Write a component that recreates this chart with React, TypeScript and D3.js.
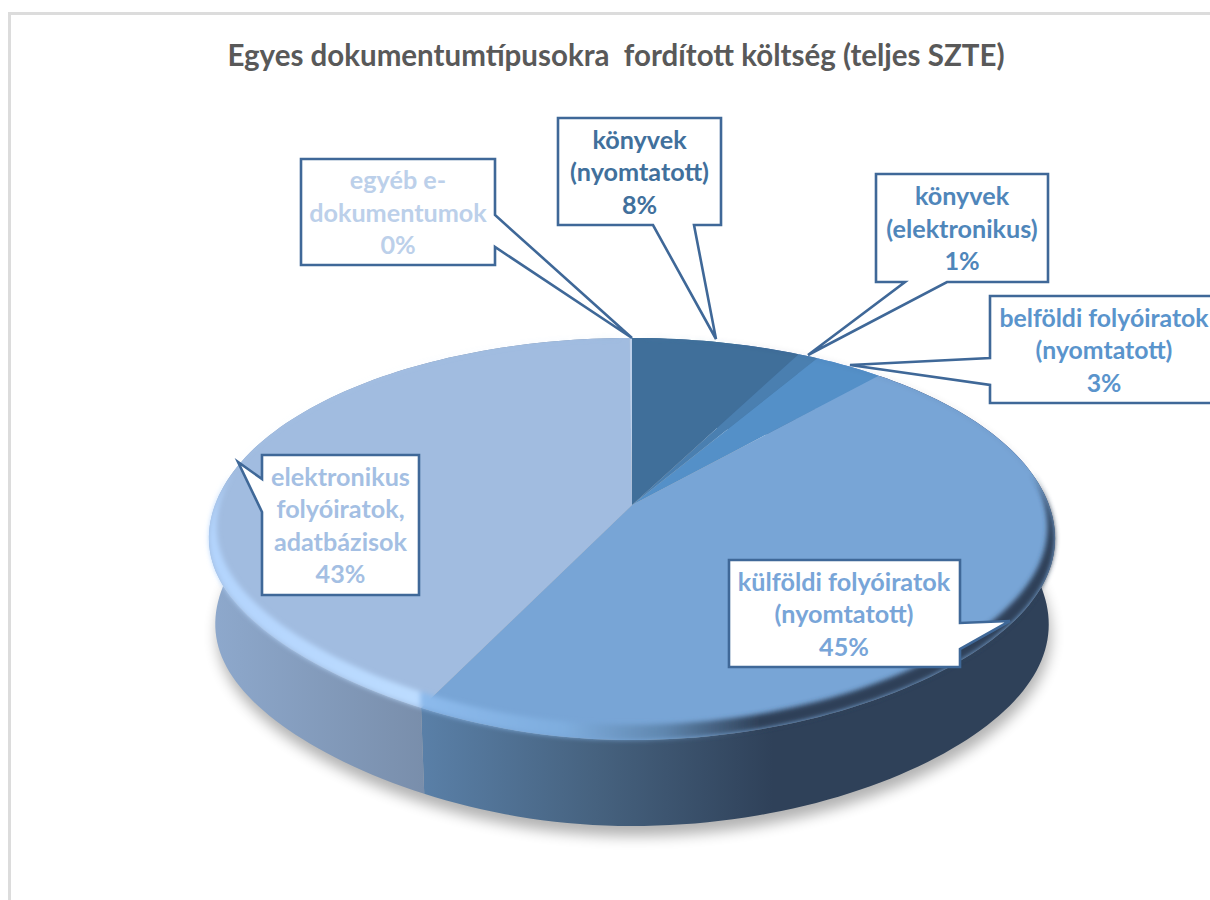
import React from "react";
import * as d3 from "d3";

const titleText = "Egyes dokumentumtípusokra  fordított költség (teljes SZTE)";
const categories = [
  ["könyvek", "(nyomtatott)"],
  ["könyvek", "(elektronikus)"],
  ["belföldi folyóiratok", "(nyomtatott)"],
  ["külföldi folyóiratok", "(nyomtatott)"],
  ["elektronikus", "folyóiratok,", "adatbázisok"],
  ["egyéb e-", "dokumentumok"],
];
const values = [7.6, 0.9, 3.1, 45.45, 42.85, 0.1];
const topColors = ["#406f9a", "#4a7fb0", "#5490c8", "#78a5d6", "#a1bce0", "#bdd0ea"];
const labelColors = ["#41709c", "#4f86ba", "#5a94cc", "#78a5d8", "#a4bfe3", "#bcd0ea"];

// label callouts: box [x0, y0, x1, y1], tail side, tail base start/end, tail apex
const boxes = [
  { b: [558, 118, 721, 225], side: "bottom", t: [653, 694], apex: [716, 339] },
  { b: [876, 174, 1048, 282], side: "bottom", t: [905, 947], apex: [808, 355] },
  { b: [990, 296, 1216, 403], side: "left", t: [358, 385], apex: [850, 365] },
  { b: [729, 560, 960, 667], side: "right", t: [623, 649], apex: [1010, 621] },
  { b: [262, 455, 419, 595], side: "left", t: [479, 512], apex: [238, 462] },
  { b: [301, 159, 495, 265], side: "right", t: [215, 247], apex: [632, 338] },
];

const CX = 632;
const CY = 505;
const R = 417;
const B = 195.3;
const P = 0.169;
const DEPTH = 86;
const BOTTOM_SCALE = 0.985;

// the reference's rim is a little flatter than a true ellipse in its two lower quadrants
function rimFlatten(theta: number) {
  const t = ((theta % (2 * Math.PI)) + 2 * Math.PI) % (2 * Math.PI);
  if (t > Math.PI / 2 && t <= Math.PI) return 5 * Math.sin(2 * t) ** 2;
  if (t > Math.PI && t < (3 * Math.PI) / 2) return 9 * Math.sin(2 * t) ** 2;
  return 0;
}
function project(theta: number, k = 1): [number, number] {
  const u = Math.sin(theta);
  const v = -Math.cos(theta);
  const w = 1 - P * v;
  return [CX + (R * k * u) / w, CY + (B * k * v) / w - rimFlatten(theta)];
}
function lower(theta: number): [number, number] {
  const [x, y] = project(theta);
  return [CX + (x - CX) * BOTTOM_SCALE, y + DEPTH];
}
const line = d3.line();
const arcSteps = (a: number, b: number) => {
  const n = Math.max(2, Math.ceil(((b - a) / (2 * Math.PI)) * 240));
  return d3.range(n + 1).map((i) => a + ((b - a) * i) / n);
};

function calloutPath(c: (typeof boxes)[number]) {
  const [x0, y0, x1, y1] = c.b;
  const pts: [number, number][] = [];
  const a = c.apex as [number, number];
  pts.push([x0, y0], [x1, y0]);
  if (c.side === "right") pts.push([x1, c.t[0]], a, [x1, c.t[1]]);
  pts.push([x1, y1]);
  if (c.side === "bottom") pts.push([c.t[1], y1], a, [c.t[0], y1]);
  pts.push([x0, y1]);
  if (c.side === "left") pts.push([x0, c.t[1]], a, [x0, c.t[0]]);
  return line(pts) + "Z";
}

export default function App() {
  const arcs = d3
    .pie<number>()
    .sort(null)
    .value((d) => d)(values);
  const full = arcSteps(0, 2 * Math.PI);
  const rimPath = line(full.map((t) => project(t))) + "Z";
  const bottomPath = line(full.map((t) => lower(t))) + "Z";
  const innerRim =
    line(
      full.map((t) => {
        const [x, y] = project(t, 0.982);
        return [x, y - 11] as [number, number];
      })
    ) + "Z";
  const pctFmt = d3.format(".0f");
  const font = "Lato, Carlito, 'Open Sans', sans-serif";

  return (
    <svg
      width={1210}
      height={900}
      viewBox="0 0 1210 900"
      style={{ position: "absolute", left: 0, top: 0, display: "block", background: "#fff" }}
    >
      <defs>
        <filter id="shadow" x="-10%" y="-10%" width="120%" height="130%">
          <feGaussianBlur stdDeviation="7" />
        </filter>
        <filter id="soft" x="-5%" y="-5%" width="110%" height="110%">
          <feGaussianBlur stdDeviation="2.8" />
        </filter>
        <linearGradient id="side3" gradientUnits="userSpaceOnUse" x1="420" x2="1050" y1="0" y2="0">
          <stop offset="0" stopColor="#5a80a8" />
          <stop offset="0.28" stopColor="#46627f" />
          <stop offset="0.56" stopColor="#2f4159" />
          <stop offset="1" stopColor="#2f4159" />
        </linearGradient>
        <linearGradient id="side4" gradientUnits="userSpaceOnUse" x1="208" x2="424" y1="0" y2="0">
          <stop offset="0" stopColor="#8ea9cd" />
          <stop offset="1" stopColor="#798eab" />
        </linearGradient>
        <linearGradient id="bevel" gradientUnits="userSpaceOnUse" x1="207" x2="1056" y1="0" y2="0">
          <stop offset="0" stopColor="#b3d4fd" />
          <stop offset="0.25" stopColor="#bcdcff" />
          <stop offset="0.252" stopColor="#8cbaec" />
          <stop offset="0.42" stopColor="#7eadde" />
          <stop offset="0.54" stopColor="#5f86ae" />
          <stop offset="0.65" stopColor="#2f4159" />
          <stop offset="1" stopColor="#2f4159" />
        </linearGradient>
        <clipPath id="rimClip">
          <path d={rimPath} />
        </clipPath>
      </defs>

      <rect x={0} y={0} width={1210} height={900} fill="#fff" />
      <path d="M1216,13.5H9.5V906" fill="none" stroke="#dcdcdc" strokeWidth={3} />

      <text
        x={616}
        y={65.5}
        textAnchor="middle"
        fontFamily={font}
        fontWeight={700}
        fontSize={29.5}
        fill="#595959"
        style={{ whiteSpace: "pre" }}
      >
        {titleText}
      </text>

      <path d={bottomPath} transform="translate(2,10)" fill="#000" opacity={0.3} filter="url(#shadow)" />

      {arcs.map((a, i) => {
        const ts = arcSteps(a.startAngle, a.endAngle);
        const d =
          line([...ts.map((t) => project(t)), ...ts.slice().reverse().map((t) => lower(t))]) + "Z";
        const fill = i === 3 ? "url(#side3)" : i === 4 ? "url(#side4)" : topColors[i];
        return <path key={"s" + i} d={d} fill={fill} />;
      })}

      {arcs.map((a, i) => {
        const ts = arcSteps(a.startAngle, a.endAngle);
        const d = line([[CX, CY], ...ts.map((t) => project(t))]) + "Z";
        return <path key={"t" + i} d={d} fill={topColors[i]} />;
      })}

      <g filter="url(#soft)">
        <path d={rimPath + innerRim} fillRule="evenodd" fill="url(#bevel)" clipPath="url(#rimClip)" />
      </g>

      {boxes.map((c, i) => {
        const [x0, y0, x1, y1] = c.b;
        const lines = [...categories[i], pctFmt(values[i]) + "%"];
        const mid = i === 2 ? 1104 : i === 3 ? 844 : (x0 + x1) / 2;
        const top = (y0 + y1) / 2 - ((lines.length - 1) * 32.5) / 2 + 9.5;
        return (
          <g key={"c" + i}>
            <path d={calloutPath(c)} fill="#fff" stroke="#3f6898" strokeWidth={2.6} strokeLinejoin="miter" />
            {lines.map((l, j) => (
              <text
                key={j}
                x={mid}
                y={top + j * 32.5}
                textAnchor="middle"
                fontFamily={font}
                fontWeight={700}
                fontSize={i === 2 ? 24.8 : 25.2}
                fill={labelColors[i]}
              >
                {l}
              </text>
            ))}
          </g>
        );
      })}
    </svg>
  );
}
